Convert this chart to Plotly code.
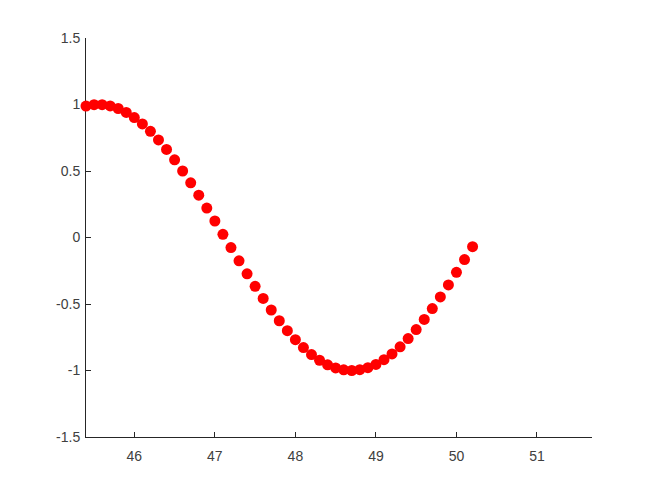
import plotly.graph_objects as go

x_vals = [45.4, 45.5, 45.6, 45.7, 45.8, 45.9, 46.0, 46.1, 46.2, 46.3, 46.4, 46.5,
          46.6, 46.7, 46.8, 46.9, 47.0, 47.1, 47.2, 47.3, 47.4, 47.5, 47.6, 47.7,
          47.8, 47.9, 48.0, 48.1, 48.2, 48.3, 48.4, 48.5, 48.6, 48.7, 48.8, 48.9,
          49.0, 49.1, 49.2, 49.3, 49.4, 49.5, 49.6, 49.7, 49.8, 49.9, 50.0, 50.1, 50.2]
y_vals = [0.988, 0.999, 0.999, 0.989, 0.970, 0.940, 0.902, 0.854, 0.798, 0.734,
          0.662, 0.584, 0.500, 0.411, 0.318, 0.221, 0.124, 0.024, -0.076, -0.175,
          -0.273, -0.367, -0.458, -0.545, -0.626, -0.701, -0.768, -0.828, -0.880,
          -0.923, -0.957, -0.981, -0.995, -1.000, -0.994, -0.979, -0.954, -0.919,
          -0.875, -0.822, -0.760, -0.692, -0.616, -0.534, -0.447, -0.357, -0.262,
          -0.166, -0.069]

x_ticks = [46, 47, 48, 49, 50, 51]
y_ticks = [-1.5, -1, -0.5, 0, 0.5, 1, 1.5]
y_tick_labels = ["-1.5", "-1", "-0.5", "0", "0.5", "1", "1.5"]

fig = go.Figure()
fig.add_trace(go.Scatter(
    x=x_vals, y=y_vals, mode="markers",
    marker=dict(color="#ff0000", size=11, line=dict(width=0)),
    cliponaxis=False, showlegend=False,
))

axis_color = "#262626"
font = dict(family="Liberation Sans, Arial, sans-serif", size=14, color="#404040")

fig.update_layout(
    width=656, height=492,
    margin=dict(l=78, r=72, t=30, b=63),
    paper_bgcolor="white", plot_bgcolor="white",
    font=font,
    xaxis=dict(
        range=[45.4, 51.683], tickvals=x_ticks, ticktext=[str(v) for v in x_ticks],
        showgrid=False, zeroline=False, showline=True, linecolor=axis_color, linewidth=1,
        ticks="inside", ticklen=5, tickcolor=axis_color, tickfont=font,
        ticklabelstandoff=6, layer="below traces",
    ),
    yaxis=dict(
        range=[-1.5, 1.5], tickvals=y_ticks, ticktext=y_tick_labels,
        showgrid=False, zeroline=False, showline=True, linecolor=axis_color, linewidth=1,
        ticks="inside", ticklen=5, tickcolor=axis_color, tickfont=font,
        ticklabelstandoff=2, layer="below traces",
    ),
)

fig.write_html("out.html")
